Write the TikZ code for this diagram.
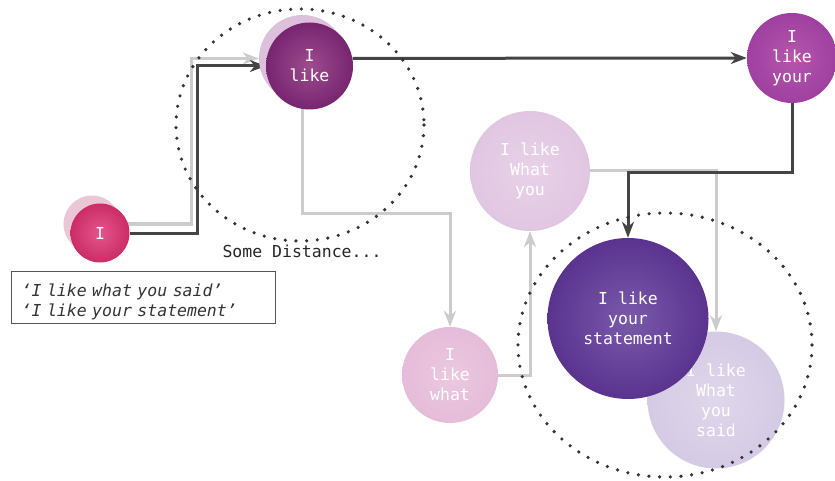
\documentclass[tikz,border=0pt]{standalone}
\usepackage{fontspec}
\newfontfamily\monofont{DejaVu Sans Mono}
\usetikzlibrary{arrows.meta,backgrounds}

\definecolor{darkline}{HTML}{444444}
\definecolor{greyline}{HTML}{CCCCCC}
\definecolor{dotcol}{HTML}{333333}
\definecolor{boxline}{HTML}{555555}
\definecolor{ghostpink}{HTML}{EBC6D4}
\definecolor{ghostlilac}{HTML}{DCC0DC}
% centre / rim colours of the shaded discs
\definecolor{pinkIn}{HTML}{E3568B}
\definecolor{pinkOut}{HTML}{CC2C66}
\definecolor{plumIn}{HTML}{9E4C8E}
\definecolor{plumOut}{HTML}{772570}
\definecolor{orchidIn}{HTML}{B457AC}
\definecolor{orchidOut}{HTML}{A03FA0}
\definecolor{paleIn}{HTML}{E8D2E8}
\definecolor{paleOut}{HTML}{E1C6E1}
\definecolor{rosyIn}{HTML}{EBC8E0}
\definecolor{rosyOut}{HTML}{E5BCD9}
\definecolor{violetIn}{HTML}{7A5AAA}
\definecolor{violetOut}{HTML}{5A338F}
\definecolor{mistIn}{HTML}{DFD7EB}
\definecolor{mistOut}{HTML}{D5CAE4}

\newcommand\labfont{\monofont\fontsize{16.5pt}{20pt}\selectfont}

\tikzset{
  ball/.style={circle, inner sep=0pt, minimum size=#1, align=center,
    text=white, font=\labfont},
  ghostball/.style={circle, inner sep=0pt, minimum size=#1},
  darkarrow/.style={draw=darkline, line width=3pt,
    -{Stealth[length=16pt,width=12pt,inset=5pt]}},
  greyarrow/.style={draw=greyline, line width=3pt,
    -{Stealth[length=16pt,width=12pt,inset=5pt]}},
  dotring/.style={draw=dotcol, line width=3.6pt, line cap=round,
    dash pattern=on 0pt off 10.7pt},
  legendbox/.style={draw=boxline, line width=1.3pt, text=black!80,
    font=\labfont\itshape, align=left, text width=244pt,
    inner xsep=10pt, minimum height=51pt},
}

\begin{document}
\begin{tikzpicture}[x=1pt, y=-1pt]
\useasboundingbox (0,0) rectangle (835,481);

% faded copies behind the first two words
\node[ghostball=57pt, fill=ghostpink] (Ig) at (92,224) {};
\node[ghostball=87pt, fill=ghostlilac] (likeg) at (302.5,58.5) {};

% the growing phrases
\node[ball=59pt, inner color=pinkIn, outer color=pinkOut] (I) at (100,233) {I};
\node[ball=87pt, inner color=plumIn, outer color=plumOut] (like) at (309.5,66) {I\\like};
\node[ball=90pt, inner color=orchidIn, outer color=orchidOut] (your) at (792,58) {I\\like\\your};
\node[ball=120pt, inner color=paleIn, outer color=paleOut] (wyou) at (530,171) {I like\\What\\you};
\node[ball=96pt, inner color=rosyIn, outer color=rosyOut] (what) at (450,375) {I\\like\\what};
\node[ball=137pt, inner color=mistIn, outer color=mistOut] (said) at (716,400) {I like\\What\\you\\said};
\node[ball=161pt, inner color=violetIn, outer color=violetOut] (stmt) at (628,318.5) {I like\\your\\statement};

% captions
\node[font=\labfont, text=black!85] (dist) at (302,251) {Some Distance...};
\node[legendbox, anchor=north west] (key) at (11,271)
  {\rule{0pt}{22pt}‘I like what you said’\\‘I like your statement’};

% connectors, kept underneath the discs
\begin{pgfonlayer}{background}
  \draw[greyarrow] (Ig.east) -- ++(70.5,0) |- (likeg.west);
  \draw[greyarrow] (likeg.south) -- ++(0,111) -| (what.north);
  \draw[greyarrow] (what.east) -| (wyou.south);
  \draw[greyarrow] (wyou.east) -| (said.north);
  \draw[darkarrow] (I.east) -- ++(68,0) |- (like.west);
  \draw[darkarrow] (like.10.6) -- (your.west);
  \draw[darkarrow] (your.south) -- ++(0,69) -| (stmt.north);
\end{pgfonlayer}

% dotted rings marking the distance
\draw[dotring] (300,125) ellipse [x radius=124, y radius=116];
\draw[dotring] (665,345) ellipse [x radius=147, y radius=132];
\end{tikzpicture}
\end{document}
